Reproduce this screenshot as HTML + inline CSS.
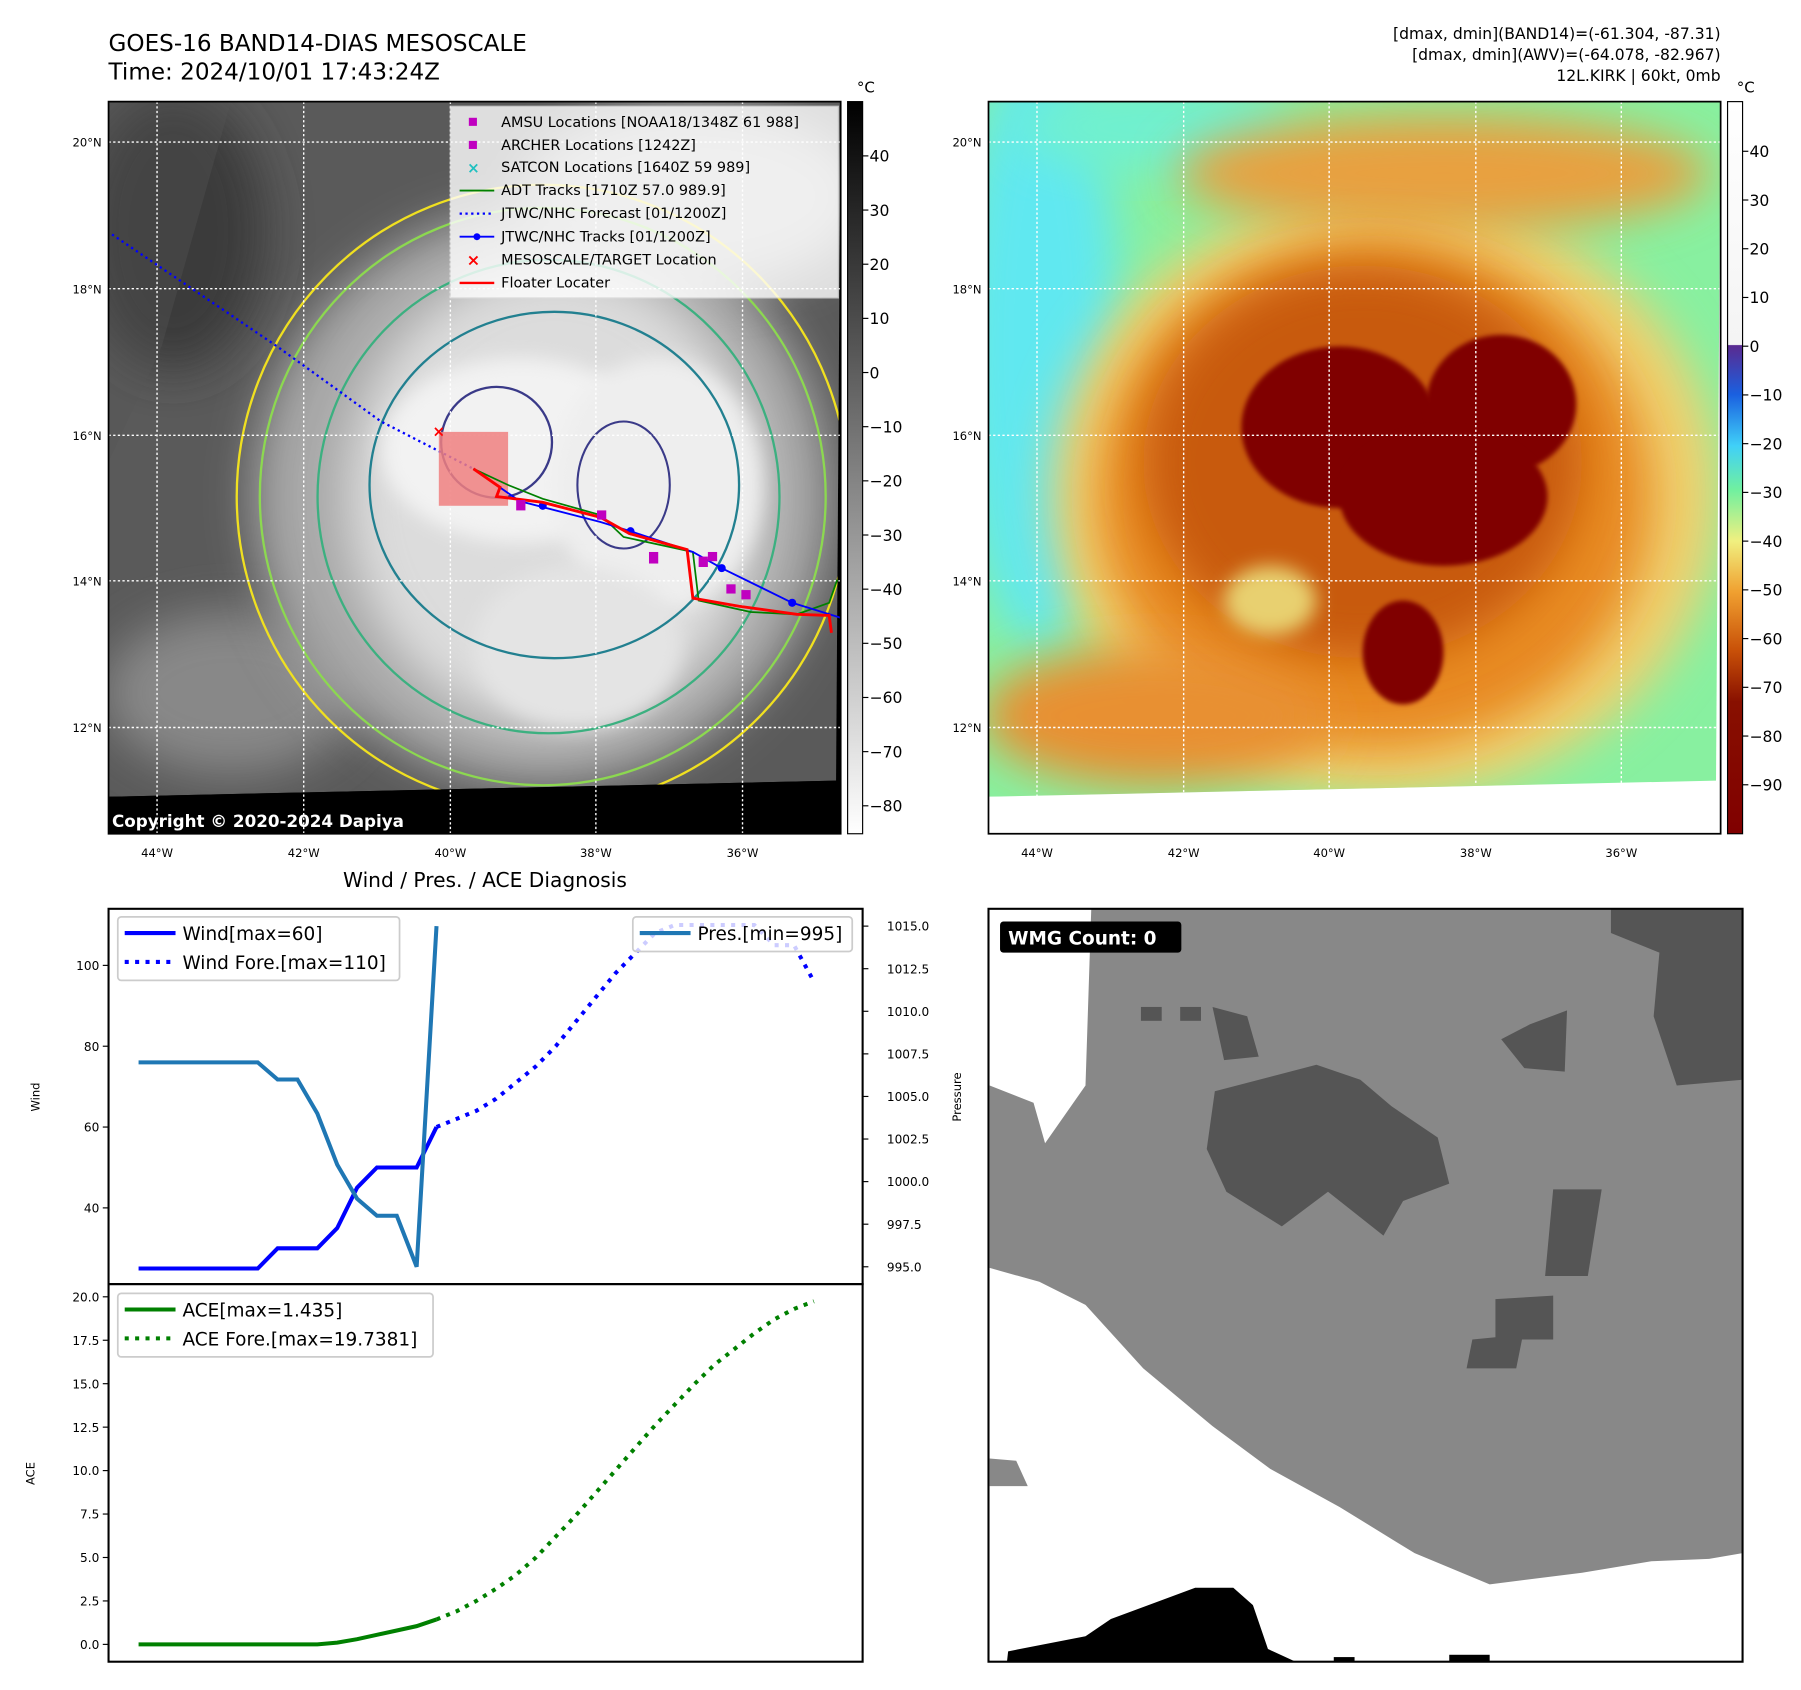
<!DOCTYPE html>
<html><head><meta charset="utf-8"><style>
html,body{margin:0;padding:0;background:#fff;}
svg{display:block;font-family:"DejaVu Sans","Liberation Sans",sans-serif;}
</style></head><body>
<svg id="fig" width="1801" height="1690" viewBox="0 0 1559.6 1463.5" preserveAspectRatio="none" xmlns="http://www.w3.org/2000/svg">
<defs>
 <filter id="b8" x="-30%" y="-30%" width="160%" height="160%"><feGaussianBlur stdDeviation="8"/></filter>
 <filter id="b20" x="-30%" y="-30%" width="160%" height="160%"><feGaussianBlur stdDeviation="20"/></filter>
 <filter id="b3"><feGaussianBlur stdDeviation="2"/></filter>
 <clipPath id="c1"><polygon points="94,88 728,88 724,676 94,690"/></clipPath>
 <clipPath id="c2"><polygon points="856,88 1490,88 1486,676 856,690"/></clipPath>
 <linearGradient id="g1" x1="0" y1="0" x2="0" y2="1">
  <stop offset="0" stop-color="#000"/><stop offset="1" stop-color="#fff"/></linearGradient>
 <linearGradient id="g2" x1="0" y1="0" x2="0" y2="1">
  <stop offset="0" stop-color="#fff"/><stop offset="0.332" stop-color="#f4f4f4"/>
  <stop offset="0.333" stop-color="#5a2a90"/><stop offset="0.40" stop-color="#1a60e0"/>
  <stop offset="0.47" stop-color="#40d0f8"/><stop offset="0.53" stop-color="#70f0a0"/>
  <stop offset="0.6" stop-color="#f0f080"/><stop offset="0.67" stop-color="#f0a030"/>
  <stop offset="0.75" stop-color="#c85008"/><stop offset="0.82" stop-color="#881000"/>
  <stop offset="1" stop-color="#800000"/></linearGradient>
</defs>

<text x="94" y="44" font-size="20">GOES-16 BAND14-DIAS MESOSCALE</text>
<text x="94" y="69" font-size="20">Time: 2024/10/01 17:43:24Z</text>
<g font-size="13.5" text-anchor="end">
 <text x="1490" y="34">[dmax, dmin](BAND14)=(-61.304, -87.31)</text>
 <text x="1490" y="52">[dmax, dmin](AWV)=(-64.078, -82.967)</text>
 <text x="1490" y="70">12L.KIRK | 60kt, 0mb</text>
</g>

<!-- Panel 1 : grayscale IR -->
<g>
 <rect x="94" y="88" width="634" height="634" fill="#000"/>
 <g clip-path="url(#c1)">
  <rect x="94" y="88" width="640" height="610" fill="#5a5a5a"/>
  <ellipse cx="150" cy="200" rx="80" ry="120" fill="#3a3a3a" filter="url(#b20)"/>
  <ellipse cx="200" cy="600" rx="110" ry="70" fill="#888" filter="url(#b20)"/>
  <ellipse cx="470" cy="430" rx="250" ry="250" fill="#a8a8a8" filter="url(#b20)"/>
  <ellipse cx="600" cy="170" rx="150" ry="80" fill="#b0b0b0" filter="url(#b20)"/>
  <ellipse cx="480" cy="430" rx="180" ry="200" fill="#dcdcdc" filter="url(#b20)"/>
  <ellipse cx="450" cy="390" rx="120" ry="80" fill="#f2f2f2" filter="url(#b8)"/>
  <ellipse cx="570" cy="420" rx="90" ry="110" fill="#eeeeee" filter="url(#b8)"/>
  <ellipse cx="500" cy="560" rx="90" ry="70" fill="#e4e4e4" filter="url(#b8)"/>
  <ellipse cx="470" cy="430" rx="265" ry="270" fill="none" stroke="#f0e020" stroke-width="2"/>
  <ellipse cx="470" cy="430" rx="245" ry="250" fill="none" stroke="#8cd850" stroke-width="2"/>
  <ellipse cx="475" cy="430" rx="200" ry="205" fill="none" stroke="#3cb080" stroke-width="2"/>
  <ellipse cx="480" cy="420" rx="160" ry="150" fill="none" stroke="#228090" stroke-width="2"/>
  <circle cx="430" cy="383" r="48" fill="none" stroke="#3a3a88" stroke-width="2"/>
  <ellipse cx="540" cy="420" rx="40" ry="55" fill="none" stroke="#3a3a88" stroke-width="1.8"/>
  <polygon points="94,88 200,88 140,300 94,400" fill="#555" opacity="0.35"/>
 </g>
 <polygon points="94,690 724,676 728,722 94,722" fill="#000"/>
 <g stroke="#fff" stroke-width="1.2" stroke-dasharray="2 2">
  <line x1="136" y1="88" x2="136" y2="722"/><line x1="263" y1="88" x2="263" y2="722"/>
  <line x1="390" y1="88" x2="390" y2="722"/><line x1="516" y1="88" x2="516" y2="722"/>
  <line x1="643" y1="88" x2="643" y2="722"/>
  <line x1="94" y1="123" x2="728" y2="123"/><line x1="94" y1="250" x2="728" y2="250"/>
  <line x1="94" y1="377" x2="728" y2="377"/><line x1="94" y1="503" x2="728" y2="503"/>
  <line x1="94" y1="630" x2="728" y2="630"/>
 </g>
 <polyline points="97,203 240,300 330,365 410,406" fill="none" stroke="#0000ff" stroke-width="2" stroke-dasharray="2 3"/>
 <rect x="380" y="374" width="60" height="64" fill="#f08080" opacity="0.85"/>
 <text x="380" y="378" font-size="13" fill="#f00" text-anchor="middle" font-weight="bold">×</text>
 <polyline points="410,406 440,420 470,432 520,446 540,465 600,478 605,520 650,530 690,532 718,522 725,502" fill="none" stroke="#008000" stroke-width="1.5"/>
 <polyline points="410,406 450,434 520,452 546,460 600,478 625,492 686,522 728,535" fill="none" stroke="#0000ff" stroke-width="1.6"/>
 <g fill="#0000ff"><circle cx="470" cy="438" r="3.5"/><circle cx="546" cy="460" r="3.5"/><circle cx="625" cy="492" r="3.5"/><circle cx="686" cy="522" r="3.5"/></g>
 <polyline points="410,406 433,422 430,430 470,435 520,448 545,462 595,476 600,518 640,525 690,532 718,533 720,548" fill="none" stroke="#f00" stroke-width="2.5"/>
 <g fill="#c000c0">
  <rect x="447" y="433" width="8" height="9"/><rect x="517" y="442" width="8" height="8"/><rect x="562" y="478" width="8" height="10"/>
  <rect x="605" y="482" width="8" height="9"/><rect x="613" y="478" width="8" height="8"/><rect x="629" y="506" width="8" height="8"/><rect x="642" y="511" width="8" height="8"/>
 </g>
 <g font-size="12.5">
  <rect x="390" y="92" width="336" height="166" fill="#fff" opacity="0.8" stroke="#ddd"/>
  <rect x="406" y="102" width="7" height="7" fill="#c000c0"/><text x="434" y="110">AMSU Locations [NOAA18/1348Z 61 988]</text>
  <rect x="406" y="122" width="7" height="7" fill="#c000c0"/><text x="434" y="130">ARCHER Locations [1242Z]</text>
  <text x="410" y="150" fill="#20c0c0" text-anchor="middle" font-weight="bold" font-size="13">×</text><text x="434" y="149">SATCON Locations [1640Z 59 989]</text>
  <line x1="398" y1="165" x2="428" y2="165" stroke="#008000" stroke-width="1.6"/><text x="434" y="169">ADT Tracks [1710Z 57.0 989.9]</text>
  <line x1="398" y1="185" x2="428" y2="185" stroke="#00f" stroke-width="2" stroke-dasharray="2 3"/><text x="434" y="189">JTWC/NHC Forecast [01/1200Z]</text>
  <line x1="398" y1="205" x2="428" y2="205" stroke="#00f" stroke-width="1.6"/><circle cx="413" cy="205" r="3" fill="#00f"/><text x="434" y="209">JTWC/NHC Tracks [01/1200Z]</text>
  <text x="410" y="230" fill="#f00" text-anchor="middle" font-weight="bold" font-size="14">×</text><text x="434" y="229">MESOSCALE/TARGET Location</text>
  <line x1="398" y1="245" x2="428" y2="245" stroke="#f00" stroke-width="2"/><text x="434" y="249">Floater Locater</text>
 </g>
 <text x="97" y="716" font-size="14.5" font-weight="bold" fill="#fff">Copyright © 2020-2024 Dapiya</text>
 <rect x="94" y="88" width="634" height="634" fill="none" stroke="#000" stroke-width="1.5"/>
</g>
<g font-size="10" text-anchor="middle">
 <text x="136" y="742">44°W</text><text x="263" y="742">42°W</text><text x="390" y="742">40°W</text><text x="516" y="742">38°W</text><text x="643" y="742">36°W</text>
 <text x="898" y="742">44°W</text><text x="1025" y="742">42°W</text><text x="1151" y="742">40°W</text><text x="1278" y="742">38°W</text><text x="1404" y="742">36°W</text>
 <g text-anchor="end"><text x="88" y="127">20°N</text><text x="88" y="254">18°N</text><text x="88" y="381">16°N</text><text x="88" y="507">14°N</text><text x="88" y="634">12°N</text>
 <text x="850" y="127">20°N</text><text x="850" y="254">18°N</text><text x="850" y="381">16°N</text><text x="850" y="507">14°N</text><text x="850" y="634">12°N</text></g>
</g>

<!-- colorbar 1 -->
<g font-size="13">
 <rect x="734" y="88" width="13" height="634" fill="url(#g1)" stroke="#000" stroke-width="1"/>
 <text x="742" y="80">°C</text>
 <g id="cb1ticks"></g>
</g>

<!-- Panel 2 color -->
<g>
 <rect x="856" y="88" width="634" height="634" fill="#fff"/>
 <g clip-path="url(#c2)">
  <rect x="856" y="88" width="640" height="610" fill="#88f0a0"/>
  <ellipse cx="900" cy="300" rx="70" ry="260" fill="#60e8f0" filter="url(#b20)"/>
  <ellipse cx="1000" cy="110" rx="120" ry="40" fill="#70f0d0" filter="url(#b20)"/>
  <ellipse cx="1200" cy="430" rx="290" ry="260" fill="#f0d070" filter="url(#b20)"/>
  <ellipse cx="1250" cy="150" rx="230" ry="50" fill="#e8a040" filter="url(#b20)"/>
  <ellipse cx="1190" cy="430" rx="240" ry="220" fill="#e88a20" filter="url(#b20)"/>
  <ellipse cx="1000" cy="620" rx="150" ry="60" fill="#e89030" filter="url(#b20)"/>
  <ellipse cx="1180" cy="400" rx="190" ry="170" fill="#c85a10" filter="url(#b20)"/>
  <ellipse cx="1160" cy="370" rx="85" ry="70" fill="#800000" filter="url(#b3)"/>
  <ellipse cx="1300" cy="350" rx="65" ry="60" fill="#800000" filter="url(#b3)"/>
  <ellipse cx="1250" cy="430" rx="90" ry="60" fill="#800000" filter="url(#b3)"/>
  <ellipse cx="1215" cy="565" rx="35" ry="45" fill="#800000" filter="url(#b3)"/>
  <ellipse cx="1100" cy="520" rx="40" ry="30" fill="#e8d070" filter="url(#b8)"/>
 </g>
 <g stroke="#fff" stroke-width="1.2" stroke-dasharray="2 2">
  <line x1="898" y1="88" x2="898" y2="690"/><line x1="1025" y1="88" x2="1025" y2="686"/>
  <line x1="1151" y1="88" x2="1151" y2="684"/><line x1="1278" y1="88" x2="1278" y2="680"/>
  <line x1="1404" y1="88" x2="1404" y2="678"/>
  <line x1="856" y1="123" x2="1490" y2="123"/><line x1="856" y1="250" x2="1490" y2="250"/>
  <line x1="856" y1="377" x2="1490" y2="377"/><line x1="856" y1="503" x2="1490" y2="503"/>
  <line x1="856" y1="630" x2="1490" y2="630"/>
 </g>
 <rect x="856" y="88" width="634" height="634" fill="none" stroke="#000" stroke-width="1.5"/>
</g>
<g font-size="13">
 <rect x="1496" y="88" width="13" height="634" fill="url(#g2)" stroke="#000" stroke-width="1"/>
 <text x="1504" y="80">°C</text>
 <g id="cb2ticks"></g>
</g>

<!-- Panel 4 WMG -->
<g>
 <rect x="856" y="787" width="653" height="652" fill="#fff"/>
 <polygon fill="#888" points="945,787 1509,787 1509,1345 1480,1350 1430,1352 1370,1362 1290,1372 1225,1345 1160,1305 1100,1272 1050,1235 990,1185 940,1130 900,1110 857,1098 857,940 895,955 905,990 940,940"/>
 <polygon fill="#555" points="1395,787 1509,787 1509,935 1452,940 1432,880 1437,825 1395,808"/>
 <polygon fill="#555" points="1052,945 1140,922 1178,935 1205,958 1245,985 1255,1025 1215,1040 1198,1070 1150,1032 1110,1062 1062,1032 1045,995"/>
 <polygon fill="#555" points="1345,1030 1387,1030 1375,1105 1338,1105"/>
 <polygon fill="#555" points="1295,1125 1345,1122 1345,1160 1318,1160 1313,1185 1270,1185 1275,1160 1295,1158"/>
 <polygon fill="#555" points="1050,872 1080,880 1090,915 1060,918"/>
 <polygon fill="#555" points="1300,900 1325,887 1357,875 1355,928 1320,925"/>
 <rect x="988" y="872" width="18" height="12" fill="#555"/><rect x="1022" y="872" width="18" height="12" fill="#555"/>
 <polygon fill="#888" points="857,1263 880,1265 890,1287 857,1287"/>
 <polygon fill="#000" points="872,1439 873,1430 940,1417 962,1402 1035,1375 1068,1375 1085,1390 1098,1428 1122,1439"/>
 <rect x="1155" y="1435" width="18" height="4" fill="#000"/><rect x="1255" y="1433" width="35" height="6" fill="#000"/>
 <rect x="866" y="798" width="157" height="27" rx="3" fill="#000"/>
 <text x="873" y="818" fill="#fff" font-size="16" font-weight="bold">WMG Count: 0</text>
 <rect x="856" y="787" width="653" height="652" fill="none" stroke="#000" stroke-width="1.8"/>
</g>

<!-- Chart -->
<text x="420" y="768" font-size="17.5" text-anchor="middle">Wind / Pres. / ACE Diagnosis</text>
<g id="chart"></g>
</svg>
<script>
const ns="http://www.w3.org/2000/svg";
const windObs=[25,25,25,25,25,25,25,30,30,30,35,45,50,50,50,60];
const windFore=[60,62,64,67,71,75,80,86,92,98,103,108,110,110,110,110,110,105,105,96];
const presObs=[1007,1007,1007,1007,1007,1007,1007,1006,1006,1004,1001,999,998,998,995,1015];
const aceObs=[0,0,0,0,0,0,0,0,0,0,0.1,0.3,0.55,0.8,1.05,1.435];
const aceFore=[1.435,1.9,2.5,3.2,4.0,5.0,6.2,7.4,8.7,10.0,11.3,12.6,13.8,15.0,16.1,17.0,17.9,18.7,19.3,19.74];
const windTicks=[40,60,80,100];
const presTicks=[995,997.5,1000,1002.5,1005,1007.5,1010,1012.5,1015];
const aceTicks=[0,2.5,5,7.5,10,12.5,15,17.5,20];
const cb1Ticks=[40,30,20,10,0,-10,-20,-30,-40,-50,-60,-70,-80];
const cb2Ticks=[40,30,20,10,0,-10,-20,-30,-40,-50,-60,-70,-80,-90];

const X=i=>120+i*17.2;
const YW=v=>836+(100-v)*3.5;
const YP=p=>802+(1015-p)*14.75;
const YA=a=>1424-a*15.05;
const CB1=v=>135+(40-v)*4.69;
const CB2=v=>131+(40-v)*4.22;

function el(tag,attrs,parent){const e=document.createElementNS(ns,tag);for(const k in attrs)e.setAttribute(k,attrs[k]);parent.appendChild(e);return e;}
function txt(s,attrs,parent){const e=el('text',attrs,parent);e.textContent=s;return e;}
const fmt=v=>String(v).replace('-','\u2212');

const g1=document.getElementById('cb1ticks');
cb1Ticks.forEach(v=>{const y=CB1(v);
 const t=el('line',{x1:747,x2:752,y1:y,y2:y,stroke:'#000'},g1);
 
 
 txt(fmt(v),{x:753,y:y+5,'font-size':13.5},g1);});
const g2=document.getElementById('cb2ticks');
cb2Ticks.forEach(v=>{const y=CB2(v);
 const t=el('line',{x1:1509,x2:1514,y1:y,y2:y,stroke:'#000'},g2);
 
 
 txt(fmt(v),{x:1515,y:y+5,'font-size':13.5},g2);});

const c=document.getElementById('chart');
el('rect',{x:94,y:787,width:653,height:325,fill:'#fff'},c);
el('rect',{x:94,y:1112,width:653,height:327,fill:'#fff'},c);
const tl={'font-size':10.5,'text-anchor':'end'};
windTicks.forEach(v=>{const y=YW(v);el('line',{x1:89,x2:94,y1:y,y2:y,stroke:'#000'},c);txt(v,{x:86,y:y+4,...tl},c);});
presTicks.forEach(v=>{const y=YP(v);el('line',{x1:747,x2:752,y1:y,y2:y,stroke:'#000'},c);txt(v.toFixed(1),{x:768,y:y+4,'font-size':10.5},c);});
aceTicks.forEach(v=>{const y=YA(v);el('line',{x1:89,x2:94,y1:y,y2:y,stroke:'#000'},c);txt(v.toFixed(1),{x:86,y:y+4,...tl},c);});
txt('Wind',{x:34,y:950,'font-size':10,'text-anchor':'middle',transform:'rotate(-90 34 950)'},c);
txt('ACE',{x:30,y:1276,'font-size':10,'text-anchor':'middle',transform:'rotate(-90 30 1276)'},c);
txt('Pressure',{x:832,y:950,'font-size':10,'text-anchor':'middle',transform:'rotate(-90 832 950)'},c);

const pts=(arr,off,fy)=>arr.map((v,i)=>X(i+off).toFixed(1)+','+fy(v).toFixed(1)).join(' ');
let p;
p=el('polyline',{points:pts(windFore,15,YW),fill:'none',stroke:'#0000ff','stroke-width':3.5,'stroke-dasharray':'3.5 5.5'},c);


p=el('polyline',{points:pts(windObs,0,YW),fill:'none',stroke:'#0000ff','stroke-width':3.5},c);


p=el('polyline',{points:pts(presObs,0,YP),fill:'none',stroke:'#1f77b4','stroke-width':3.5},c);


p=el('polyline',{points:pts(aceFore,15,YA),fill:'none',stroke:'#008000','stroke-width':3.5,'stroke-dasharray':'3.5 5.5'},c);


p=el('polyline',{points:pts(aceObs,0,YA),fill:'none',stroke:'#008000','stroke-width':3.5},c);



function legend(x,y,w,h,items,name){const g=el('g',{},c);
 
 
 el('rect',{x:x,y:y,width:w,height:h,rx:3,fill:'#fff','fill-opacity':0.8,stroke:'#ccc','stroke-width':1.5},g);
 items.forEach((it,i)=>{const yy=y+14+i*25;
  const a={x1:x+6,x2:x+50,y1:yy,y2:yy,stroke:it.c,'stroke-width':3.5};if(it.d)a['stroke-dasharray']='3.5 5.5';
  el('line',a,g);txt(it.t,{x:x+56,y:yy+6,'font-size':16},g);});}
legend(102,794,244,55,[{c:'#0000ff',t:'Wind[max=60]'},{c:'#0000ff',d:1,t:'Wind Fore.[max=110]'}],'wind-legend');
legend(548,794,190,30,[{c:'#1f77b4',t:'Pres.[min=995]'}],'pressure-legend');
legend(102,1120,273,55,[{c:'#008000',t:'ACE[max=1.435]'},{c:'#008000',d:1,t:'ACE Fore.[max=19.7381]'}],'ace-legend');
el('rect',{x:94,y:787,width:653,height:325,fill:'none',stroke:'#000','stroke-width':1.8},c);
el('rect',{x:94,y:1112,width:653,height:327,fill:'none',stroke:'#000','stroke-width':1.8},c);
</script>
</body></html>
